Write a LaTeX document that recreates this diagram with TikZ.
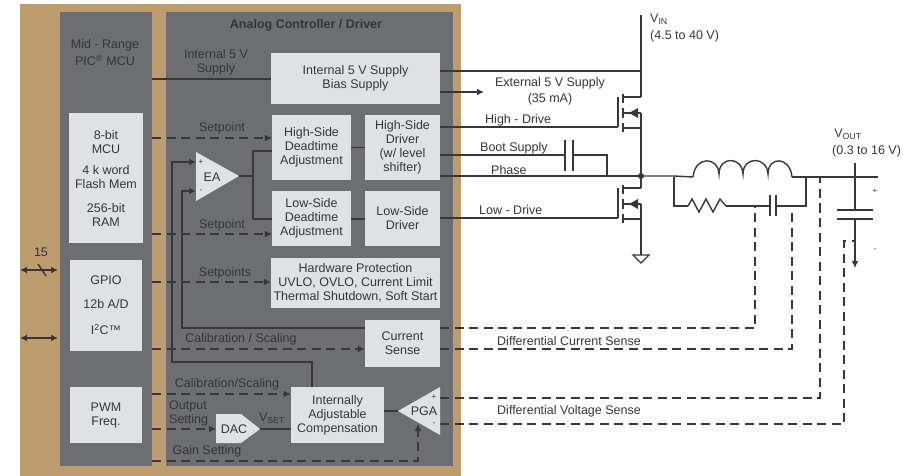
\documentclass[tikz,border=0pt]{standalone}
\usepackage{fontspec}
\setmainfont{Liberation Sans}
\usepackage{tikz}
\usetikzlibrary{arrows.meta,positioning}
\definecolor{panelTan}{HTML}{BD9C6E}
\definecolor{panelGray}{HTML}{6C6E70}
\definecolor{blockFill}{HTML}{DFE1E3}
\definecolor{wireDark}{HTML}{38383A}
\definecolor{inkGray}{HTML}{34363A}
\tikzset{
  panel/.style={fill=panelGray, draw=none, inner sep=0pt},
  blk/.style={fill=blockFill, draw=none, inner sep=0pt, align=center,
              text=inkGray, font=\fontsize{12.5}{14}\selectfont},
  wire/.style={draw=wireDark, line width=1.4pt},
  wiretip/.style={wire, -{Latex[length=7pt,width=7pt]}},
  dashwire/.style={wire, dash pattern=on 9pt off 5.5pt},
  dashtip/.style={dashwire, -{Latex[length=7pt,width=7pt]}},
  bus/.style={wire, {Latex[length=7pt,width=7pt]}-{Latex[length=7pt,width=7pt]}},
  lab/.style={inner sep=0pt, text=inkGray, align=center,
              font=\fontsize{12.5}{14}\selectfont},
  labl/.style={lab, anchor=west, align=left},
  tinylab/.style={inner sep=0pt, text=inkGray, font=\fontsize{8}{8}\selectfont},
  amp/.style={fill=blockFill, draw=none},
}

\begin{document}
\begin{tikzpicture}[x=1pt, y=-1pt]
\useasboundingbox (0,0) rectangle (903,476);

% panels
\fill[panelTan] (20,4) rectangle (461,476);
\node[panel, minimum width=92, minimum height=454] (mcuPanel) at (106,239) {};
\node[panel, minimum width=287, minimum height=454] (ctrlPanel) at (309.5,239) {};

% blocks inside the MCU
\node[blk, minimum width=74, minimum height=130] (mcuCore) at (106,178)
  {8-bit\\MCU\\[7pt]4 k word\\Flash Mem\\[10pt]256-bit\\RAM};
\node[blk, minimum width=72, minimum height=91] (gpio) at (106,305.5)
  {GPIO\\[10pt]12b A/D\\[12pt]I\textsuperscript{2}C™};
\node[blk, minimum width=72, minimum height=56] (pwm) at (106,415) {PWM\\Freq.};

% blocks inside the controller
\node[blk, minimum width=169, minimum height=51] (biasSupply) at (355.5,78.5)
  {Internal 5 V Supply\\Bias Supply};
\node[blk, minimum width=79, minimum height=65] (hsDead) at (311.5,147.5)
  {High-Side\\Deadtime\\Adjustment};
\node[blk, minimum width=75, minimum height=65] (hsDriver) at (402.5,147.5)
  {High-Side\\Driver\\(w/ level\\shifter)};
\node[blk, minimum width=79, minimum height=55] (lsDead) at (311.5,218.5)
  {Low-Side\\Deadtime\\Adjustment};
\node[blk, minimum width=75, minimum height=55] (lsDriver) at (402.5,218.5)
  {Low-Side\\Driver};
\node[blk, minimum width=169, minimum height=50] (hwProt) at (355.5,283)
  {Hardware Protection\\UVLO, OVLO, Current Limit\\Thermal Shutdown, Soft Start};
\node[blk, minimum width=75, minimum height=47] (curSense) at (402.5,343.5)
  {Current\\Sense};
\node[blk, minimum width=93, minimum height=56] (adjComp) at (337.5,415)
  {Internally\\Adjustable\\Compensation};

% amplifiers
\fill[amp] (196,152) -- (239,176) -- (196,201) -- cycle;
\fill[amp] (216,414) -- (241,414) -- (260,429) -- (241,443) -- (216,443) -- cycle;
\fill[amp] (398,411) -- (440,387) -- (440,435) -- cycle;
\node[lab] (eaText) at (212,177) {EA};
\node[lab] (dacText) at (234,429) {DAC};
\node[lab] (pgaText) at (424,411) {PGA};
\node[tinylab] (eaPlusSign) at (201,162) {+};
\node[tinylab] (eaMinusSign) at (201,191) {-};
\node[tinylab] (pgaPlusSign) at (434,397) {+};
\node[tinylab] (pgaMinusSign) at (434,424) {-};
\coordinate (eaPlus) at (196,162);
\coordinate (eaMinus) at (196,191);
\coordinate (eaOut) at (239,176);
\coordinate (dacIn) at (216,429);
\coordinate (dacOut) at (260,429);
\coordinate (pgaOut) at (398,411);
\coordinate (pgaGain) at (418,424);
\coordinate (pgaPlus) at (440,398);
\coordinate (pgaMinus) at (440,424);
\coordinate (fbDrop) at (312,387);

% rows that the wires follow
\coordinate (rowIntSup) at (0,79);
\coordinate (rowSetHi) at (0,138);
\coordinate (rowDeadHi) at (0,151);
\coordinate (rowDeadLo) at (0,219);
\coordinate (rowSetLo) at (0,234);
\coordinate (rowSetProt) at (0,282);
\coordinate (rowCurFb) at (0,328);
\coordinate (rowCal) at (0,349);
\coordinate (rowCalComp) at (0,394);
\coordinate (rowGain) at (0,461);
\coordinate (rowVin) at (0,71);
\coordinate (rowExt) at (0,92);
\coordinate (rowHiDrive) at (0,127);
\coordinate (rowBoot) at (0,155);
\coordinate (rowPhase) at (0,176);

% wires inside the device
\draw[wire] (mcuPanel.east |- rowIntSup) -- (biasSupply.west |- rowIntSup);
\draw[dashtip] (mcuPanel.east |- rowSetHi) -- (hsDead.west |- rowSetHi);
\draw[dashtip] (mcuPanel.east |- rowSetLo) -- (lsDead.west |- rowSetLo);
\draw[dashtip] (mcuPanel.east |- rowSetProt) -- (hwProt.west |- rowSetProt);
\draw[dashtip] (mcuPanel.east |- rowCal) -- (curSense.west |- rowCal);
\draw[dashtip] (mcuPanel.east |- rowCalComp) -- (adjComp.west |- rowCalComp);
\draw[dashtip] (mcuPanel.east |- dacIn) -- (dacIn);
\draw[dashtip] (mcuPanel.east |- rowGain) -| (pgaGain);
\draw[wire] (eaOut) -- ++(14,0) coordinate (eaSplit);
\draw[wire] (hsDead.west |- rowDeadHi) -| (eaSplit) |- (lsDead.west |- rowDeadLo);
\draw[wire] (hsDead.east) -- (hsDriver.west);
\draw[wire] (lsDead.east |- rowDeadLo) -- (lsDriver.west |- rowDeadLo);
\draw[wire] (dacOut) -- (adjComp.west |- dacOut);
\draw[wire] (adjComp.east |- pgaOut) -- (pgaOut);
\draw[wiretip] (curSense.west |- rowCurFb) -- ++(-183,0) -- ++(0,-137) -- (eaMinus);
\draw[wiretip] (fbDrop) -- ++(0,-25) -- ++(-140,0) -- ++(0,-200) -- (eaPlus);

% FETs
\foreach \fy/\fet in {113/hiFet,204/loFet} {
  \coordinate (\fet Gate) at (618,\fy+14);
  \coordinate (\fet Top) at (641,\fy-16);
  \coordinate (\fet Mid) at (641,\fy);
  \coordinate (\fet Bot) at (641,\fy+15);
  \draw[wire] (618,\fy-16) -- (\fet Gate);
  \draw[wire] (623,\fy-19) -- (623,\fy-10);
  \draw[wire] (623,\fy-5) -- (623,\fy+5);
  \draw[wire] (623,\fy+10) -- (623,\fy+19);
  \draw[wire] (623,\fy-16) -- (\fet Top);
  \draw[wire] (623,\fy+15) -- (\fet Bot);
  \draw[wire] (\fet Mid) -- (623,\fy);
  \fill[wireDark] (629,\fy) -- (638,\fy-5) -- (638,\fy+5) -- cycle;
}

% power stage
\coordinate (vinTop) at (641,15);
\coordinate (gndTip) at (641,255);
\draw[wire] (vinTop) -- (hiFetTop);
\draw[wire] (hiFetMid) -- (hiFetBot);
\draw[wire] (hiFetBot) -- (641,176) coordinate (phaseNode);
\draw[wire] (loFetTop) -- (phaseNode);
\draw[wire] (loFetMid) -- (gndTip);
\fill[fill=white, draw=wireDark, line width=1.4pt] (633,255) -- (649,255) -- (641,263) -- cycle;
\fill[wireDark] (phaseNode) circle (3pt);

\draw[wire] (biasSupply.east |- rowVin) -- (vinTop |- rowVin);
\draw[wiretip] (biasSupply.east |- rowExt) -- (484,92);
\draw[wire] (hsDriver.east |- rowHiDrive) -- (hiFetGate);
\draw[wire] (lsDriver.east |- loFetGate) -- (loFetGate);

% boot capacitor
\coordinate (bootCapA) at (565,155);
\coordinate (bootCapB) at (573,155);
\draw[wire] (hsDriver.east |- rowBoot) -- (bootCapA);
\draw[wire] (bootCapA |- 0,140) -- (bootCapA |- 0,171);
\draw[wire] (bootCapB |- 0,140) -- (bootCapB |- 0,171);
\draw[wire] (bootCapB) -| (607,176);
\draw[wire] (hsDriver.east |- rowPhase) -- (phaseNode);

% output filter
\coordinate (lIn) at (693,177);
\coordinate (lOut) at (792,177);
\coordinate (filtL) at (674,177);
\coordinate (filtR) at (806,177);
\coordinate (outEnd) at (878,177);
\draw[wire] (phaseNode) -- (filtL |- phaseNode) -- (lIn);
\draw[wire] (lOut) -- (outEnd);
\draw[wire] (lIn)
  .. controls (695,156) and (718,156) .. (719,174)
  .. controls (719,156) and (742,156) .. (743,174)
  .. controls (743,156) and (767,156) .. (768,174)
  .. controls (768,156) and (790,156) .. (lOut);
\coordinate (resIn) at (688,206);
\coordinate (resOut) at (726,206);
\coordinate (sensCapA) at (770,206);
\coordinate (sensCapB) at (776,206);
\coordinate (sensMid) at (755,206);
\draw[wire] (filtL) |- (resIn);
\draw[wire] (resIn) -- (692,199) -- (699,212) -- (706,199) -- (713,212) -- (720,199) -- (resOut);
\draw[wire] (resOut) -- (sensCapA);
\draw[wire] (sensCapA |- 0,195) -- (sensCapA |- 0,216);
\draw[wire] (sensCapB |- 0,195) -- (sensCapB |- 0,216);
\draw[wire] (sensCapB) -| (filtR);

% output capacitor
\coordinate (capTop) at (855,163);
\coordinate (capPlateA) at (855,210);
\coordinate (capPlateB) at (855,219);
\coordinate (capEnd) at (855,268);
\coordinate (capStub) at (855,241);
\draw[wire] (capTop) -- (capPlateA);
\draw[wire] ([xshift=-18pt]capPlateA) -- ([xshift=18pt]capPlateA);
\draw[wire] ([xshift=-18pt]capPlateB) -- ([xshift=18pt]capPlateB);
\draw[wiretip] (capPlateB) -- (capEnd);

% sense lines
\draw[dashwire] (curSense.east |- rowCurFb) -| (sensMid);
\draw[dashwire] (curSense.east |- rowCal) -| (792,209);
\draw[dashwire] (pgaPlus) -| (820,177);
\draw[dashwire] (pgaMinus) -| (844,241) -- (capStub);

% buses on the left
\coordinate (busA) at (20,270);
\coordinate (busB) at (58,270);
\coordinate (busC) at (20,338);
\coordinate (busD) at (58,338);
\coordinate (busTick) at (42,270);
\draw[bus] (busA) -- (busB);
\draw[bus] (busC) -- (busD);
\draw[wire] ([shift={(-4,-6)}]busTick) -- ([shift={(4,6)}]busTick);

% labels
\node[lab] (mcuTitle) at (105,53) {Mid - Range\\[3pt]PIC\textsuperscript{®} MCU};
\node[lab, font=\fontsize{12.5}{14}\selectfont\bfseries] (ctrlTitle) at (306,25) {Analog Controller / Driver};
\node[lab] (busCount) at (41,252) {15};
\node[lab] (intSupLab) at (216,62) {Internal 5 V\\Supply};
\node[lab] (setHiLab) at (222,128) {Setpoint};
\node[lab] (setLoLab) at (222,225) {Setpoint};
\node[lab] (setProtLab) at (225,273) {Setpoints};
\node[lab] (calLab) at (241,339) {Calibration / Scaling};
\node[lab] (calCompLab) at (227,384) {Calibration/Scaling};
\node[labl] (outSetLab) at (169,413) {Output\\Setting};
\node[lab] (vsetLab) at (272,418) {V\textsubscript{SET}};
\node[lab] (gainLab) at (207,451) {Gain Setting};
\node[lab] (extLab) at (550,91) {External 5 V Supply\\[2pt](35 mA)};
\node[labl] (hiDriveLab) at (485,120) {High - Drive};
\node[labl] (bootLab) at (480,148) {Boot Supply};
\node[labl] (phaseLab) at (491,170) {Phase};
\node[labl] (loDriveLab) at (479,210) {Low - Drive};
\node[labl] (vinLab) at (650,28) {V\textsubscript{IN}\\[3pt](4.5 to 40 V)};
\node[labl] (voutLab) at (832,143) {\,V\textsubscript{OUT}\\[3pt](0.3 to 16 V)};
\node[tinylab] (plusLab) at (875,191) {+};
\node[tinylab] (minusLab) at (875,250) {-};
\node[labl] (diffILab) at (497,341) {Differential Current Sense};
\node[labl] (diffVLab) at (497,411) {Differential Voltage Sense};

\end{tikzpicture}
\end{document}
